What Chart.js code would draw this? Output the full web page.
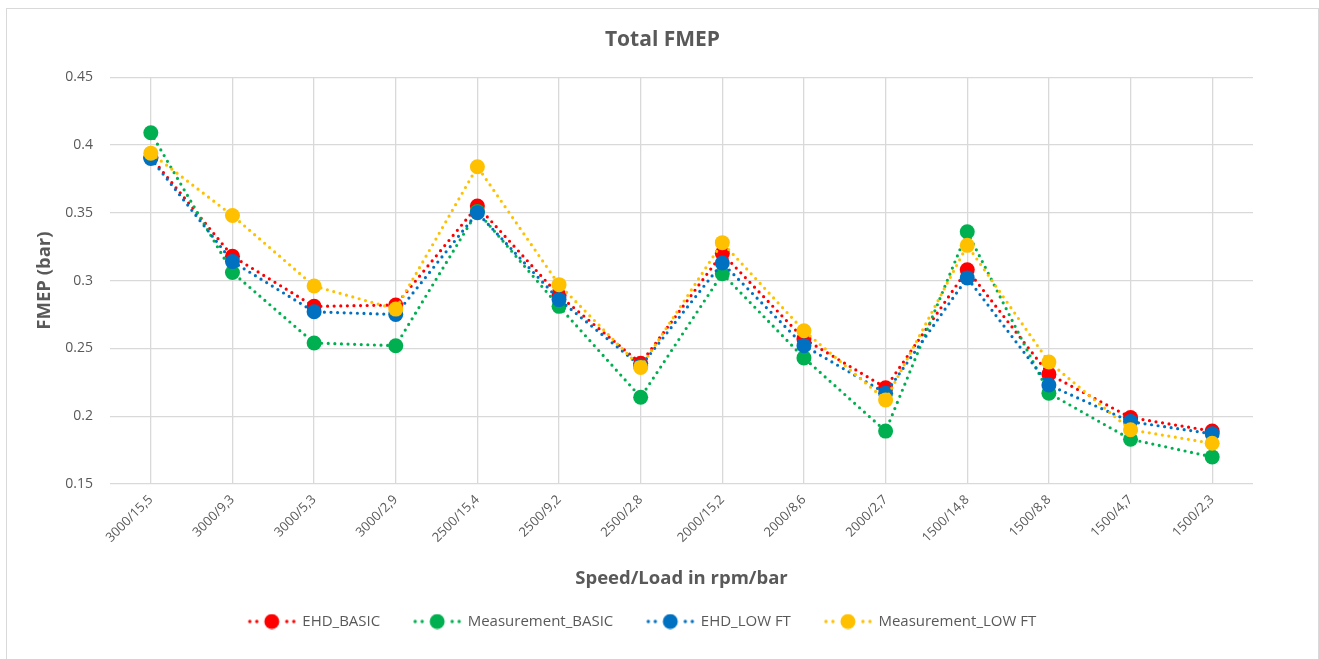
<!DOCTYPE html>
<html>
<head>
<meta charset="utf-8">
<title>Total FMEP</title>
<script src="https://cdn.jsdelivr.net/npm/chart.js@4.4.1/dist/chart.umd.min.js"></script>
<style>
  html, body { margin: 0; padding: 0; background: #fff; overflow: hidden; }
  #frame { position: absolute; left: 6px; top: 8px; width: 1313px; height: 700px; border: 1px solid #d9d9d9; box-sizing: border-box; }
  #chart { position: absolute; left: 0; top: 0; }
</style>
</head>
<body>
<div id="frame"></div>
<canvas id="chart" width="1319" height="659"></canvas>
<script>
'use strict';

// operating points (speed in rpm / load in bar)
var labels = ['3000/15,5', '3000/9,3', '3000/5,3', '3000/2,9', '2500/15,4', '2500/9,2', '2500/2,8',
    '2000/15,2', '2000/8,6', '2000/2,7', '1500/14,8', '1500/8,8', '1500/4,7', '1500/2,3'];

var ehdBasic = [0.391, 0.318, 0.281, 0.282, 0.355, 0.289, 0.239, 0.320, 0.257, 0.221, 0.308, 0.231, 0.199, 0.189];
var measurementBasic = [0.409, 0.306, 0.254, 0.252, 0.351, 0.281, 0.214, 0.305, 0.243, 0.189, 0.336, 0.217, 0.183, 0.170];
var ehdLowFt = [0.390, 0.314, 0.277, 0.275, 0.350, 0.286, 0.237, 0.313, 0.252, 0.217, 0.302, 0.223, 0.196, 0.187];
var measurementLowFt = [0.394, 0.348, 0.296, 0.279, 0.384, 0.297, 0.236, 0.328, 0.263, 0.212, 0.326, 0.240, 0.190, 0.180];

var yTicks = [0.15, 0.2, 0.25, 0.3, 0.35, 0.4, 0.45];

var TEXT_COLOR = '#595959';
var GRID_COLOR = '#d9d9d9';

// "..O.." legend marker; the blank strip on the left widens the gap between items
function makeLegendSymbol(color) {
    var c = document.createElement('canvas');
    c.width = 82;
    c.height = 16;
    var ctx = c.getContext('2d');
    ctx.fillStyle = color;
    var dots = [27, 34, 64, 71];
    for (var i = 0; i < dots.length; i++) {
        ctx.beginPath();
        ctx.arc(dots[i], 8, 1.7, 0, Math.PI * 2);
        ctx.fill();
    }
    ctx.beginPath();
    ctx.arc(49, 8, 7.5, 0, Math.PI * 2);
    ctx.fill();
    return c;
}

function makeDataset(label, data, color, order) {
    return {
        label: label,
        data: data,
        borderColor: color,
        backgroundColor: color,
        borderWidth: 3.2,
        borderDash: [0, 6.6],
        borderCapStyle: 'round',
        pointRadius: 7.5,
        pointHoverRadius: 7.5,
        pointBorderWidth: 0,
        pointBackgroundColor: color,
        tension: 0,
        order: order,
        legendSymbol: makeLegendSymbol(color)
    };
}

// title and legend are centred on the whole frame, not on the plot
var shiftBlocks = {
    id: 'shiftBlocks',
    afterLayout: function (chart) {
        chart.titleBlock.left += 36;
        chart.titleBlock.right += 36;
        chart.legend.left += 8;
        chart.legend.right += 8;
    }
};

Chart.defaults.font.family = '"Open Sans", "Noto Sans", sans-serif';
Chart.defaults.color = TEXT_COLOR;

var ctx = document.getElementById('chart').getContext('2d');

var chart = new Chart(ctx, {
    type: 'line',
    data: {
        labels: labels,
        datasets: [
            makeDataset('EHD_BASIC', ehdBasic, '#ff0000', 3),
            makeDataset('Measurement_BASIC', measurementBasic, '#00b050', 2),
            makeDataset('EHD_LOW FT', ehdLowFt, '#0070c0', 1),
            makeDataset('Measurement_LOW FT', measurementLowFt, '#ffc000', 0)
        ]
    },
    plugins: [shiftBlocks],
    options: {
        responsive: false,
        animation: false,
        layout: {
            padding: { left: 0, right: 66, top: 0, bottom: 20 }
        },
        plugins: {
            tooltip: { enabled: false },
            title: {
                display: true,
                text: 'Total FMEP',
                color: TEXT_COLOR,
                font: { size: 21, weight: 'bold' },
                padding: { top: 27, bottom: 25 }
            },
            legend: {
                position: 'bottom',
                labels: {
                    usePointStyle: true,
                    pointStyleWidth: 62,
                    padding: 18,
                    color: TEXT_COLOR,
                    font: { size: 15 },
                    generateLabels: function (chart) {
                        return chart.data.datasets.map(function (ds, i) {
                            return {
                                text: ds.label,
                                pointStyle: ds.legendSymbol,
                                fillStyle: ds.backgroundColor,
                                strokeStyle: ds.borderColor,
                                lineWidth: 0,
                                fontColor: TEXT_COLOR,
                                hidden: false,
                                datasetIndex: i
                            };
                        });
                    }
                }
            }
        },
        scales: {
            x: {
                offset: true,
                grid: { color: GRID_COLOR, lineWidth: 1.3, offset: false, drawTicks: false },
                border: { display: false },
                ticks: {
                    color: TEXT_COLOR,
                    font: { size: 13 },
                    minRotation: 45,
                    maxRotation: 45,
                    padding: 8,
                    autoSkip: false
                },
                title: {
                    display: true,
                    text: 'Speed/Load in rpm/bar',
                    color: TEXT_COLOR,
                    font: { size: 18.5, weight: 'bold' },
                    padding: { top: 0, bottom: 6 }
                },
                afterFit: function (scale) {
                    scale.height = 112;
                }
            },
            y: {
                min: 0.15,
                max: 0.45,
                afterBuildTicks: function (scale) {
                    scale.ticks = yTicks.map(function (v) { return { value: v }; });
                },
                grid: { color: GRID_COLOR, lineWidth: 1.3, drawTicks: false },
                border: { display: false },
                ticks: {
                    color: TEXT_COLOR,
                    font: { size: 14 },
                    padding: 17,
                    callback: function (value) {
                        return String(Number(value.toFixed(2)));
                    }
                },
                title: {
                    display: true,
                    text: 'FMEP (bar)',
                    color: TEXT_COLOR,
                    font: { size: 18.5, weight: 'bold' },
                    padding: { top: 34, bottom: 0 }
                },
                afterFit: function (scale) {
                    scale.width = 110;
                }
            }
        }
    }
});
</script>
</body>
</html>
